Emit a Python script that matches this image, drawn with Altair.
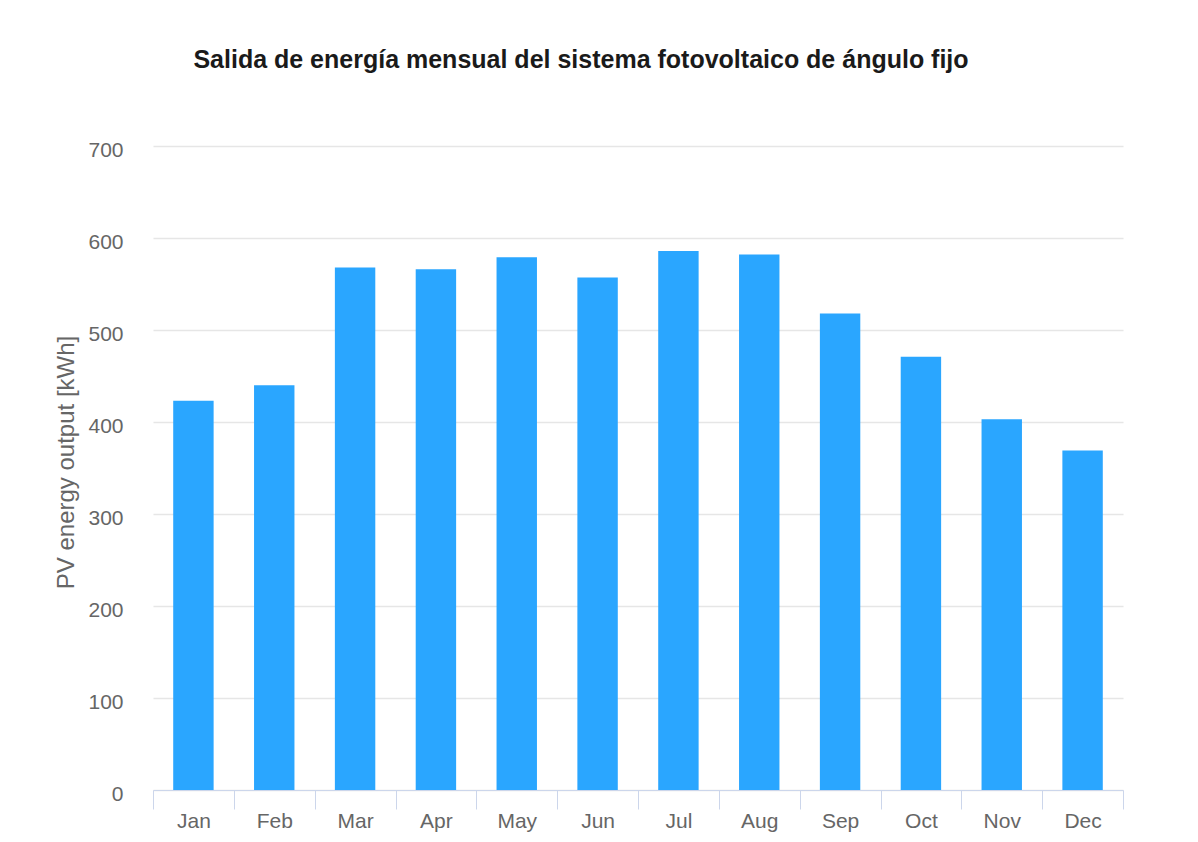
import altair as alt
import pandas as pd

months = ["Jan", "Feb", "Mar", "Apr", "May", "Jun", "Jul", "Aug", "Sep", "Oct", "Nov", "Dec"]
output_kwh = [423, 440, 568, 566, 579, 557, 586, 582, 518, 471, 403, 369]
y_ticks = [0, 100, 200, 300, 400, 500, 600, 700]

df = pd.DataFrame({"month": months, "kwh": output_kwh})

FONT = "Liberation Sans"

chart = alt.Chart(df).mark_bar(color="#2aa6ff", width=alt.RelativeBandSize(0.5)).encode(
    x=alt.X(
        "month:N",
        sort=months,
        scale=alt.Scale(paddingInner=0, paddingOuter=0),
        axis=alt.Axis(
            title=None,
            labelAngle=0,
            labelFont=FONT,
            labelFontSize=21,
            labelColor="#666666",
            labelPadding=1,
            domainColor="#ccd6eb",
            domainWidth=1,
            tickColor="#ccd6eb",
            tickSize=19,
            tickWidth=1,
            tickBand="extent",
            grid=False,
        ),
    ),
    y=alt.Y(
        "kwh:Q",
        scale=alt.Scale(domain=[0, 700], nice=False),
        axis=alt.Axis(
            values=y_ticks,
            title="PV energy output [kWh]",
            titleFont=FONT,
            titleFontSize=24,
            titleFontWeight="normal",
            titleColor="#666666",
            titleX=-87,
            titleY=316,
            titleAngle=-90,
            titleAlign="center",
            titleBaseline="middle",
            labelFont=FONT,
            labelFontSize=21,
            labelColor="#666666",
            labelPadding=30,
            labelOffset=4,
            ticks=False,
            domain=False,
            gridColor="#e6e6e6",
            gridWidth=1.5,
        ),
    ),
).properties(
    width=970,
    height=644,
    autosize=alt.AutoSizeParams(type="none"),
    padding={"left": 145, "top": 138, "right": 60, "bottom": 60},
    title=alt.TitleParams(
        text="Salida de energía mensual del sistema fotovoltaico de ángulo fijo",
        font=FONT,
        fontSize=25,
        fontWeight="bold",
        color="#1a1a1a",
        anchor="middle",
        dx=-57,
        offset=66,
    ),
).configure_view(stroke=None)

chart.save("out.html", embed_options={"renderer": "svg", "actions": False})
